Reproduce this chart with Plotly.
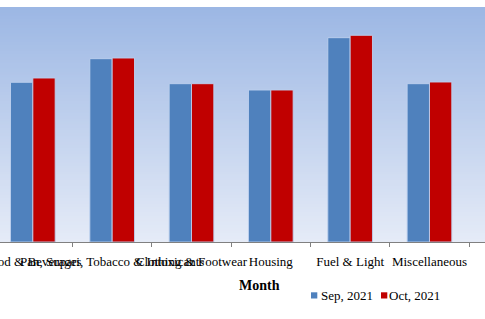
import plotly.graph_objects as go

categories = ["Food & Beverages", "Pan, Supari, Tobacco & Intoxicants", "Clothing & Footwear",
              "Housing", "Fuel & Light", "Miscellaneous"]
sep_2021 = [159.7, 183.3, 158.3, 152.0, 204.3, 158.3]
oct_2021 = [164.0, 184.0, 158.3, 152.0, 206.7, 160.0]
series_names = ["Sep, 2021", "Oct, 2021"]
series_colors = ["#4F81BD", "#C00000"]

W, H = 485, 319
top, bottom = 7, 77
PH = H - top - bottom  # plot height in px


def py(p):  # pixel y -> paper y
    return (H - bottom - p) / PH


def px(p):  # pixel x -> paper x
    return p / W


fig = go.Figure()
for name, vals, col in zip(series_names, [sep_2021, oct_2021], series_colors):
    fig.add_bar(x=categories, y=vals, name=name, showlegend=False,
                marker=dict(color=col, line=dict(color="rgba(190,208,238,0.9)", width=1)))

# gradient plot background
shapes = []
n = 80
c0 = (156, 183, 228)
c1 = (229, 235, 247)
for i in range(n):
    t = i / (n - 1)
    c = tuple(round(c0[k] + (c1[k] - c0[k]) * t) for k in range(3))
    shapes.append(dict(type="rect", xref="paper", yref="paper", layer="below",
                       x0=0, x1=1, y0=max(0, 1 - (i + 2) / n), y1=1 - i / n,
                       fillcolor=f"rgb{c}", line=dict(width=0)))

# custom legend (small squares + text)
legend_sq_x = [311, 381]
legend_tx_x = [318.5, 387]
annotations = []
for name, col, sx, tx in zip(series_names, series_colors, legend_sq_x, legend_tx_x):
    shapes.append(dict(type="rect", xref="paper", yref="paper",
                       x0=px(sx), x1=px(sx + 6.3), y0=py(298.5), y1=py(292.3),
                       fillcolor=col, line=dict(width=0)))
    annotations.append(dict(text=name, xref="paper", yref="paper", x=px(tx), y=py(295.5),
                            xanchor="left", yanchor="middle", showarrow=False,
                            font=dict(family="Liberation Serif", size=13, color="black")))

annotations.append(dict(text="<b>Month</b>", xref="paper", yref="paper",
                        x=px(259.3), y=py(285.5), xanchor="center", yanchor="middle",
                        showarrow=False, font=dict(family="Liberation Serif", size=14, color="black")))

fig.update_layout(
    width=W, height=H,
    margin=dict(l=0, r=0, t=top, b=bottom, autoexpand=False),
    paper_bgcolor="white", plot_bgcolor="white",
    barmode="group", bargap=0.437, bargroupgap=0,
    font=dict(family="Liberation Serif", size=13, color="black"),
    shapes=shapes, annotations=annotations,
    showlegend=False,
)
fig.update_xaxes(range=[-0.414, 5.70], tickson="boundaries", ticks="outside", ticklen=4,
                 tickcolor="#808080", showline=True, linecolor="#808080", linewidth=1,
                 tickangle=0, ticklabeloverflow="allow", showgrid=False, automargin=False,
                 ticklabelstandoff=7,
                 tickfont=dict(family="Liberation Serif", size=13))
fig.update_yaxes(range=[0, 235], visible=False, showgrid=False, automargin=False)

fig.write_html("out.html")
